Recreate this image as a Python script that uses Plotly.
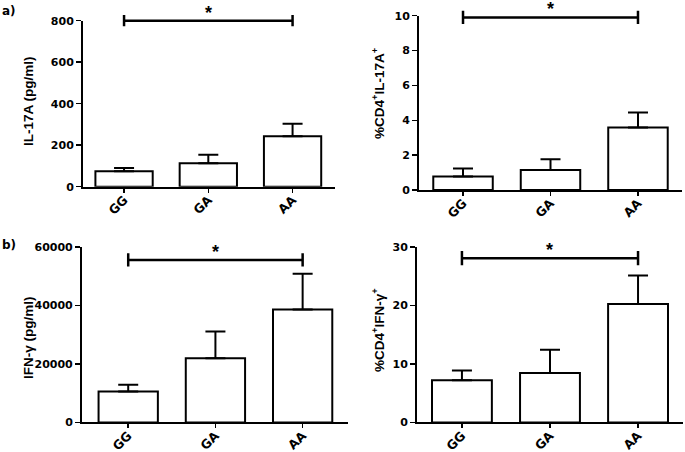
import plotly.graph_objects as go

categories = ["GG", "GA", "AA"]
il17_mean = [75, 113, 243]
il17_err = [15, 41, 60]
cd4_il17_mean = [0.77, 1.15, 3.58]
cd4_il17_err = [0.46, 0.61, 0.86]
ifng_mean = [10600, 22000, 38600]
ifng_err = [2300, 9100, 12300]
cd4_ifng_mean = [7.2, 8.45, 20.25]
cd4_ifng_err = [1.7, 4.0, 4.9]

il17_ticks = [0, 200, 400, 600, 800]
cd4_il17_ticks = [0, 2, 4, 6, 8, 10]
ifng_ticks = [0, 20000, 40000, 60000]
cd4_ifng_ticks = [0, 10, 20, 30]

brackets = [800, 9.9, 55600, 28.1]
bracket_half = [27, 0.38, 2300, 1.2]

panels = [
    dict(mean=il17_mean, err=il17_err, ticks=il17_ticks, rng=[0, 800],
         title="IL-17A (pg/ml)", xdom=[0.1212, 0.4891], ydom=[0.5869, 0.9542],
         xr=[-0.487, 2.504], tx=29, ty=101),
    dict(mean=cd4_il17_mean, err=cd4_il17_err, ticks=cd4_il17_ticks, rng=[0, 10],
         title="%CD4<sup>+</sup>IL-17A<sup>+</sup>", xdom=[0.6117, 0.9956], ydom=[0.5796, 0.9653],
         xr=[-0.503, 2.503], tx=378, ty=93),
    dict(mean=ifng_mean, err=ifng_err, ticks=ifng_ticks, rng=[0, 60000],
         title="IFN-γ (pg/ml)", xdom=[0.1197, 0.508], ydom=[0.0653, 0.4535],
         xr=[-0.53, 2.52], tx=28, ty=338),
    dict(mean=cd4_ifng_mean, err=cd4_ifng_err, ticks=cd4_ifng_ticks, rng=[0, 30],
         title="%CD4<sup>+</sup>IFN-γ<sup>+</sup>", xdom=[0.6088, 0.997], ydom=[0.0653, 0.4535],
         xr=[-0.51, 2.51], tx=378, ty=330),
]

W, H = 685, 452
TICKFONT = dict(family="DejaVu Sans", size=11, color="black", weight="bold")
XTICKFONT = dict(family="DejaVu Sans", size=12.5, color="black", weight="bold")
TITLEFONT = dict(family="Liberation Sans, Arial", size=13.5, color="black", weight="bold")
CLEAR = "rgba(0,0,0,0)"

fig = go.Figure()
layout = dict(
    width=W, height=H, margin=dict(l=0, r=0, t=0, b=0, autoexpand=False),
    paper_bgcolor="white", plot_bgcolor=CLEAR, showlegend=False,
    font=dict(family="DejaVu Sans", size=12, color="black"),
)
annotations = []
for i, p in enumerate(panels):
    n = "" if i == 0 else str(i + 1)
    xa, ya = "x" + n, "y" + n
    fig.add_trace(go.Bar(
        x=[0, 1, 2], y=p["mean"], xaxis=xa, yaxis=ya, width=0.68,
        marker=dict(color="white", line=dict(color="black", width=2)),
        error_y=dict(type="data", array=p["err"], arrayminus=[0, 0, 0], symmetric=False,
                     color="black", thickness=2, width=10),
        hoverinfo="skip",
    ))
    # invisible companion axes with extended vertical domain so the bracket is not clipped
    m = str(i + 5)
    bxa, bya = "x" + m, "y" + m
    d0, d1 = p["ydom"]
    top = min(1.0, d1 + 0.04)
    r0, r1 = p["rng"]
    rtop = r0 + (r1 - r0) * (top - d0) / (d1 - d0)
    b, h = brackets[i], bracket_half[i]
    fig.add_trace(go.Scatter(
        x=[0, 0, 0, 2, 2, 2], y=[b + h, b - h, b, b, b + h, b - h],
        xaxis=bxa, yaxis=bya, mode="lines", line=dict(color="black", width=2.5),
        hoverinfo="skip",
    ))
    annotations.append(dict(
        x=1, y=b, xref=xa, yref=ya, text="<b>*</b>", showarrow=False,
        yanchor="bottom", yshift=-4, font=dict(size=18, family="Liberation Sans, Arial", weight="bold"),
    ))
    annotations.append(dict(
        x=p["tx"] / W, y=1 - p["ty"] / H, xref="paper", yref="paper", text="<b>" + p["title"] + "</b>",
        textangle=-90, showarrow=False, xanchor="center", yanchor="middle", font=TITLEFONT,
    ))
    layout["xaxis" + n] = dict(
        domain=p["xdom"], anchor=ya, range=p["xr"], tickmode="array",
        tickvals=[0, 1, 2], ticktext=["<b>%s</b>" % c for c in categories], tickangle=-45,
        showline=True, linecolor="black", linewidth=2, ticks="outside",
        ticklen=4, tickwidth=1.5, tickcolor="black", showgrid=False, zeroline=False,
        tickfont=XTICKFONT, automargin=False, fixedrange=True, ticklabelstandoff=-5,
    )
    layout["yaxis" + n] = dict(
        domain=p["ydom"], anchor=xa, range=p["rng"], tickmode="array",
        tickvals=p["ticks"], ticktext=["<b>%d</b>" % t for t in p["ticks"]],
        showline=True, linecolor="black", linewidth=2,
        ticks="outside", ticklen=5, tickwidth=1.5, tickcolor="black",
        showgrid=False, zeroline=False, tickfont=TICKFONT, automargin=False, fixedrange=True,
    )
    layout["xaxis" + m] = dict(domain=p["xdom"], anchor=bya, range=p["xr"], visible=False,
                               fixedrange=True, showgrid=False, zeroline=False)
    layout["yaxis" + m] = dict(domain=[d0, top], anchor=bxa, range=[r0, rtop], visible=False,
                               fixedrange=True, showgrid=False, zeroline=False)

annotations.append(dict(x=0.0, y=1 - 2 / H, xref="paper", yref="paper", text="<b>a)</b>",
                        showarrow=False, xanchor="left", yanchor="top",
                        font=dict(size=12, family="DejaVu Sans", weight="bold")))
annotations.append(dict(x=0.0, y=1 - 236 / H, xref="paper", yref="paper", text="<b>b)</b>",
                        showarrow=False, xanchor="left", yanchor="top",
                        font=dict(size=12, family="DejaVu Sans", weight="bold")))
layout["annotations"] = annotations
fig.update_layout(**layout)
fig.write_html("out.html", config={"displayModeBar": False, "staticPlot": True},
               post_script="document.body.style.margin='0';document.body.style.overflow='hidden';")
